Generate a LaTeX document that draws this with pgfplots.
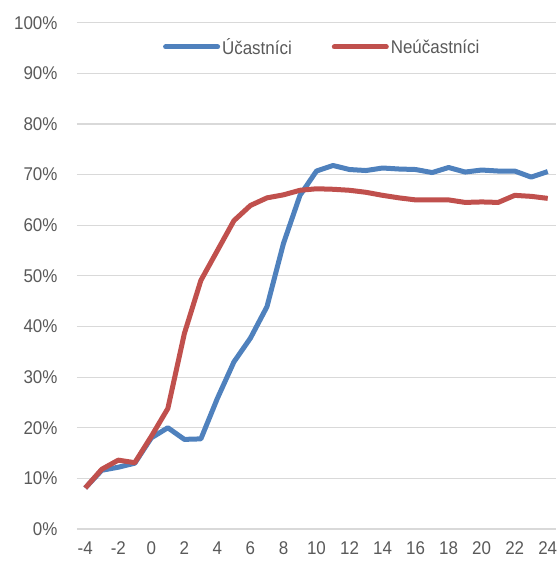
\documentclass[border=0pt]{standalone}
\usepackage{fontspec}
\setmainfont{Liberation Sans}[FakeStretch=0.92]
\usepackage{pgfplots}
\pgfplotsset{compat=1.18}
\definecolor{txtc}{HTML}{595959}
\definecolor{gridc}{HTML}{D9D9D9}
\definecolor{cblue}{HTML}{4F81BD}
\definecolor{cred}{HTML}{C0504D}
\begin{document}
\begin{tikzpicture}
\begin{axis}[
  at={(0,0)}, anchor=south west,
  scale only axis, width=479bp, height=506.3bp,
  xmin=-4.5, xmax=24.5, ymin=0, ymax=100,
  axis line style={draw=none},
  xtick={-4,-2,...,24}, ytick={0,10,...,100},
  major tick length=0pt,
  ymajorgrids, xmajorgrids=false, grid style={draw=gridc, line width=1.1bp},
  /pgf/number format/assume math mode=true,
  yticklabel={\pgfmathprintnumber{\tick}\%},
  ticklabel style={font=\fontsize{18.5}{20}\selectfont, text=txtc},
  xticklabel style={yshift=-9bp},
  yticklabel style={xshift=-16bp},
  legend columns=2,
  legend style={at={(0.512,0.952)}, anchor=center, draw=none, fill=none,
    font=\fontsize{18.5}{20}\selectfont, text=txtc,
    /tikz/every even column/.append style={column sep=38bp}},
  legend image code/.code={\draw[#1, line cap=round] (0bp,0bp) -- (52bp,0bp);},
  every axis plot/.append style={line width=5bp, line join=round},
]
\addplot[cblue] coordinates {
(-4,8.1) (-3,11.6) (-2,12.2) (-1,13) (0,18) (1,20) (2,17.7) (3,17.8)
(4,25.8) (5,33) (6,37.7) (7,43.9) (8,56.4) (9,65.9) (10,70.7) (11,71.8)
(12,71) (13,70.8) (14,71.3) (15,71.1) (16,71) (17,70.4) (18,71.4) (19,70.5)
(20,70.9) (21,70.7) (22,70.7) (23,69.5) (24,70.6)
};
\addlegendentry{Účastníci}
\addplot[cred] coordinates {
(-4,8.1) (-3,11.8) (-2,13.6) (-1,13.1) (0,18.3) (1,23.8) (2,38.6) (3,49.1)
(4,55) (5,60.9) (6,63.9) (7,65.4) (8,66) (9,66.9) (10,67.2) (11,67.1)
(12,66.9) (13,66.5) (14,65.9) (15,65.4) (16,65) (17,65) (18,65) (19,64.5)
(20,64.6) (21,64.5) (22,65.9) (23,65.7) (24,65.3)
};
\addlegendentry{Neúčastníci}
\end{axis}
\pgfresetboundingbox
\path[use as bounding box] (-77bp,-36bp) rectangle (481bp,529bp);
\end{tikzpicture}
\end{document}
